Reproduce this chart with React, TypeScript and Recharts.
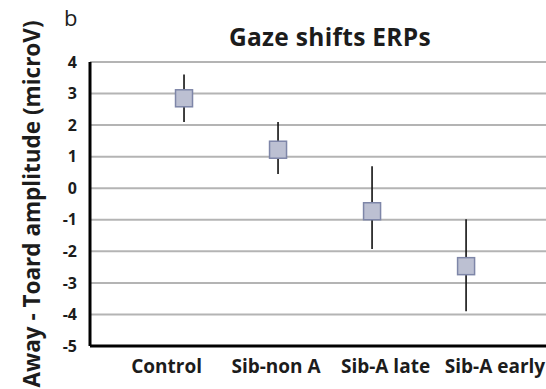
import { ComposedChart, Scatter, XAxis, YAxis, CartesianGrid, ErrorBar } from 'recharts';

const categories = ['Control', 'Sib-non A', 'Sib-A late', 'Sib-A early'];
const means = [2.85, 1.22, -0.73, -2.47];
const upper = [3.6, 2.1, 0.7, -0.98];
const lower = [2.1, 0.45, -1.93, -3.9];
const yTicks = [-5, -4, -3, -2, -1, 0, 1, 2, 3, 4];
const labelTicks = [1, 2, 3, 4];

const data = categories.map((name, i) => ({
  name,
  x: i + 1,
  y: means[i],
  err: [means[i] - lower[i], upper[i] - means[i]],
}));

const FONT = '"Open Sans", sans-serif';
const TEXT = '#1c1c1c';

const SquareShape = (props: any) => {
  const { cx, cy } = props;
  if (cx == null || cy == null) return null;
  const s = 17;
  return (
    <rect x={cx - s / 2} y={cy - s / 2} width={s} height={s} fill="#bcc0d2" stroke="#7e86a8" strokeWidth={1.5} />
  );
};

const NoShape = () => null;

export default function App() {
  return (
    <div style={{ position: 'absolute', left: 0, top: 0, width: 546, height: 389, background: '#fff', fontFamily: FONT }}>
      <div style={{ position: 'absolute', left: 64, top: 5, fontSize: 22, color: TEXT, lineHeight: 1.1 }}>b</div>
      <div
        style={{ position: 'absolute', left: 130, width: 400, top: 25, textAlign: 'center', fontSize: 24.5, fontWeight: 700, color: TEXT, lineHeight: 1, letterSpacing: 0.3 }}
      >
        Gaze shifts ERPs
      </div>
      <ComposedChart width={546} height={389} data={data} margin={{ top: 62, right: 0, bottom: 0, left: 0 }}>
        <CartesianGrid xAxisId="pts" horizontal vertical={false} stroke="#b4b4b4" strokeWidth={2} />
        <XAxis xAxisId="pts" dataKey="x" type="number" domain={[0, 4.85]} hide />
        <XAxis
          xAxisId="lab"
          type="number"
          dataKey="x"
          domain={[0.3, 4.466]}
          ticks={labelTicks}
          tickFormatter={(v: number) => categories[v - 1]}
          axisLine={{ stroke: '#000', strokeWidth: 3 }}
          tickLine={false}
          tickSize={0}
          tickMargin={14}
          interval={0}
          height={43}
          tick={{ fill: TEXT, fontSize: 19, fontWeight: 700, fontFamily: FONT }}
        />
        <YAxis
          type="number"
          domain={[-5, 4]}
          ticks={yTicks}
          interval={0}
          width={90}
          axisLine={{ stroke: '#000', strokeWidth: 3 }}
          tickLine={false}
          tickSize={0}
          tickMargin={13}
          tick={{ fill: TEXT, fontSize: 16, fontWeight: 700, fontFamily: FONT }}
          label={{
            value: 'Away - Toard amplitude (microV)',
            angle: -90,
            position: 'insideLeft',
            offset: 32,
            style: { textAnchor: 'middle', fill: TEXT, fontSize: 22.5, fontWeight: 700, fontFamily: FONT },
          }}
        />
        <Scatter xAxisId="pts" dataKey="y" shape={NoShape} isAnimationActive={false}>
          <ErrorBar dataKey="err" direction="y" width={0} stroke="#111" strokeWidth={1.6} isAnimationActive={false} />
        </Scatter>
        <Scatter xAxisId="pts" dataKey="y" shape={SquareShape} isAnimationActive={false} />
      </ComposedChart>
    </div>
  );
}
